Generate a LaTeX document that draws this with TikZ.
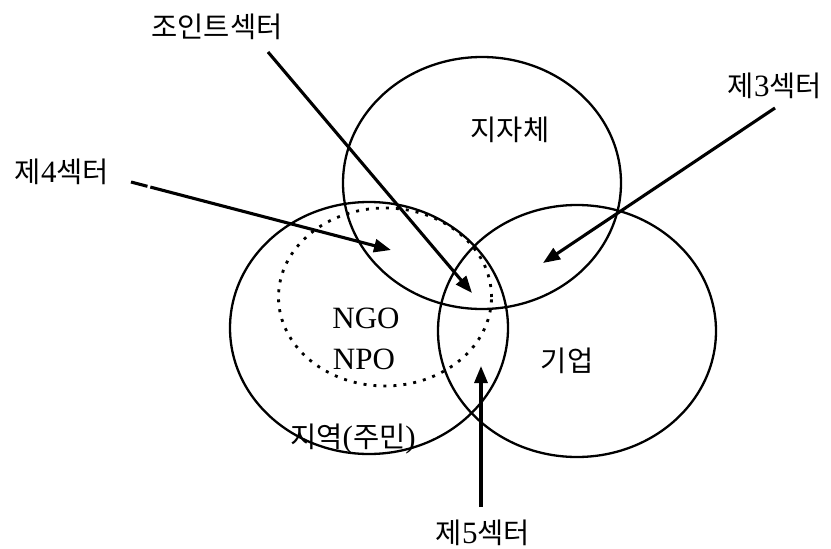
\documentclass[tikz,border=0pt]{standalone}
\usepackage{fontspec}
\setmainfont{Liberation Serif}
\newfontfamily\kr{Noto Sans CJK KR}
\newcommand{\krs}{\kr\fontsize{28.5}{30}\selectfont}
\usetikzlibrary{arrows.meta,shapes.geometric}
\begin{document}
\begin{tikzpicture}[x=1pt,y=-1pt,
  circ/.style={draw,ellipse,line width=2.3pt,minimum width=278pt,minimum height=252pt,inner sep=0pt},
  dotcirc/.style={draw,ellipse,line width=2.8pt,dash pattern=on 3pt off 7pt,minimum width=213pt,minimum height=178pt,inner sep=0pt},
  lbl/.style={inner sep=0pt,font=\fontsize{31}{33}\selectfont},
  arr/.style={line width=3.1pt,-{Triangle[length=17pt,width=13pt]}}]
\useasboundingbox (0,0) rectangle (831,549);
\node[circ] (gov) at (482,183) {};
\node[circ] (loc) at (369,328) {};
\node[circ] (biz) at (577,331) {};
\node[dotcirc] (ngo) at (385,297) {};
\node[lbl] (tgov) at (510,130) {\krs 지자체};
\node[lbl] (tngo) at (366,318) {NGO};
\node[lbl] (tnpo) at (364,359) {NPO};
\node[lbl] (tloc) at (353,439) {{\krs 지역}({\krs 주민})};
\node[lbl] (tbiz) at (567,361) {\krs 기업};
\node[lbl] (tj) at (217,27) {\krs 조인트섹터};
\node[lbl] (t3) at (775,86) {{\krs 제}3{\krs 섹터}};
\node[lbl] (t4) at (62,172) {{\krs 제}4{\krs 섹터}};
\node[lbl] (t5) at (483,533) {{\krs 제}5{\krs 섹터}};
\coordinate (sj) at (268,52);
\coordinate (ej) at (472,293);
\coordinate (s3) at (775,108);
\coordinate (e3) at (543,263);
\coordinate (s4) at (131,182);
\coordinate (e4) at (391,250);
\coordinate (s5) at (481,507);
\coordinate (e5) at (481,366);
\draw[arr] (sj) -- (ej);
\draw[arr] (s3) -- (e3);
\draw[arr,dash pattern=on 17pt off 3pt on 1000pt] (s4) -- (e4);
\draw[arr] (s5) -- (e5);
\end{tikzpicture}
\end{document}
